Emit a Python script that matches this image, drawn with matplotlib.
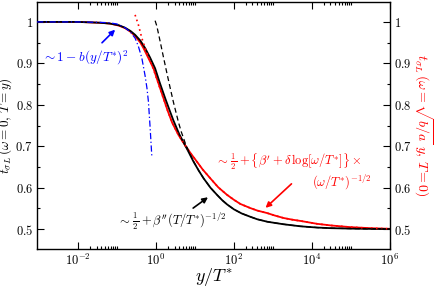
import matplotlib
matplotlib.use('Agg')
import matplotlib.pyplot as plt
import numpy as np
from matplotlib.ticker import FixedLocator, FixedFormatter, NullFormatter

plt.rcParams['mathtext.fontset'] = 'cm'
plt.rcParams['font.family'] = 'serif'

# values: log10(y/T*) and t
black_logy = [-3.05, -2.0, -1.434, -1.177, -0.95, -0.792, -0.65, -0.535, -0.4, -0.278, -0.15,
              -0.021, 0.1, 0.237, 0.35, 0.45, 0.6, 0.751, 0.85, 0.964, 1.1, 1.221, 1.4, 1.566,
              1.7, 1.823, 2.0, 2.2, 2.422, 2.6, 2.86, 3.27, 3.71, 4.136, 4.5, 4.99, 5.5, 6.0]
black_t = [1.0, 1.0, 0.998, 0.996, 0.992, 0.986, 0.978, 0.969, 0.955, 0.937, 0.914,
           0.888, 0.853, 0.816, 0.787, 0.762, 0.729, 0.702, 0.684, 0.663, 0.641, 0.623, 0.600, 0.583,
           0.570, 0.560, 0.548, 0.538, 0.530, 0.524, 0.518, 0.512, 0.507, 0.504, 0.5025, 0.5015, 0.5008, 0.5004]

red_logy = [-3.05, -2.0, -1.434, -1.177, -0.95, -0.792, -0.65, -0.535, -0.4, -0.321, -0.2,
            -0.064, 0.06, 0.193, 0.3, 0.416, 0.58, 0.751, 0.9, 1.051, 1.2, 1.393, 1.6, 1.823,
            2.0, 2.165, 2.422, 2.6, 2.851, 3.05, 3.278, 3.5, 3.707, 4.136, 4.5, 4.992, 5.5, 6.0]
red_t = [1.0, 1.0, 0.998, 0.996, 0.991, 0.985, 0.976, 0.966, 0.950, 0.937, 0.914,
         0.888, 0.853, 0.816, 0.786, 0.757, 0.727, 0.702, 0.682, 0.663, 0.644, 0.623, 0.601, 0.583,
         0.571, 0.561, 0.551, 0.545, 0.539, 0.533, 0.527, 0.523, 0.520, 0.513, 0.509, 0.505, 0.5025, 0.501]

red_asym_logy = [-0.535, -0.45, -0.362, -0.278, -0.17, -0.064, 0.06, 0.193, 0.3, 0.416, 0.58, 0.751,
                 0.9, 1.051, 1.2, 1.393, 1.6, 1.823, 2.0, 2.165, 2.422, 2.6, 2.851, 3.05, 3.278,
                 3.5, 3.707, 4.136, 4.5, 4.992, 5.5, 6.0]
red_asym_t = [1.017, 0.993, 0.961, 0.937, 0.911, 0.886, 0.852, 0.815, 0.786, 0.757, 0.727, 0.702,
              0.682, 0.663, 0.644, 0.623, 0.601, 0.583, 0.571, 0.561, 0.551, 0.545, 0.539, 0.533, 0.527,
              0.523, 0.520, 0.513, 0.509, 0.505, 0.5025, 0.501]

black_asym_logy = [-0.021, 0.023, 0.108, 0.193, 0.28, 0.365, 0.45, 0.578, 0.65, 0.751, 0.85,
                   0.964, 1.1, 1.221, 1.4, 1.566, 1.7, 1.823, 2.0, 2.2, 2.422, 2.6, 2.86, 3.27,
                   3.71, 4.136, 4.5, 4.99, 5.5, 6.0]
black_asym_t = [1.003, 0.990, 0.953, 0.915, 0.877, 0.841, 0.806, 0.758, 0.735, 0.708, 0.686,
                0.664, 0.641, 0.623, 0.600, 0.583, 0.570, 0.560, 0.548, 0.538, 0.530, 0.524, 0.518, 0.512,
                0.507, 0.504, 0.5025, 0.5015, 0.5008, 0.5004]

blue_logy = [-3.05, -2.0, -1.434, -1.2, -1.0, -0.792, -0.65, -0.535, -0.45, -0.362, -0.278,
             -0.23, -0.193, -0.149, -0.105]
blue_t = [1.0, 1.0, 0.999, 0.998, 0.995, 0.986, 0.975, 0.961, 0.941, 0.913, 0.870,
          0.840, 0.808, 0.745, 0.675]

y_ticks = [0.5, 0.6, 0.7, 0.8, 0.9, 1.0]
y_tick_labels = ['0.5', '0.6', '0.7', '0.8', '0.9', '1']
x_major = [-2, 0, 2, 4, 6]


def lin(logs):
    return 10.0 ** np.array(logs)


fig = plt.figure(figsize=(4.36, 2.89), dpi=100)
ax = fig.add_axes([0.085, 0.138, 0.809, 0.855])

ax.plot(lin(black_logy), black_t, color='black', lw=1.3, zorder=4)
ax.plot(lin(red_logy), red_t, color='red', lw=1.3, zorder=3)
ax.plot(lin(red_asym_logy), red_asym_t, color='red', lw=1.2, ls=(0, (1, 2)), zorder=5)
ax.plot(lin(black_asym_logy), black_asym_t, color='black', lw=0.9, ls=(0, (4, 2.5)), zorder=5)
ax.plot(lin(blue_logy), blue_t, color='blue', lw=0.9, ls=(0, (5, 2, 1, 2)), zorder=6)

ax.set_xscale('log')
ax.set_xlim(10 ** -3.05, 1e6)
ax.set_ylim(0.452, 1.048)

ax.xaxis.set_major_locator(FixedLocator(lin(x_major)))
ax.xaxis.set_major_formatter(FixedFormatter([r'$10^{%d}$' % e for e in x_major]))
minors = [k * 10.0 ** e for e in (-2, 0, 2, 4) for k in range(2, 11)]
ax.xaxis.set_minor_locator(FixedLocator(minors))
ax.xaxis.set_minor_formatter(NullFormatter())

ax.yaxis.set_major_locator(FixedLocator(y_ticks))
ax.yaxis.set_major_formatter(FixedFormatter(['$%s$' % s for s in y_tick_labels]))
ax.yaxis.set_minor_locator(FixedLocator([0.55, 0.65, 0.75, 0.85, 0.95]))

ax.tick_params(which='both', direction='in', top=True, right=True, labelright=True,
               labelsize=9, width=0.8)
ax.tick_params(which='major', length=5, pad=3)
ax.tick_params(which='minor', length=2.5)
for s in ax.spines.values():
    s.set_linewidth(1.0)

ax.set_xlabel(r'$y/T^{*}$', fontsize=13, labelpad=-2)
ax.set_ylabel(r'$t_{\sigma L}\,(\omega=0,\,T=y)$', fontsize=9.5)
ax.yaxis.set_label_coords(-0.064, 0.5)
ax.text(1.094, 0.5, r'$t_{\sigma L}\,(\omega=\sqrt{b/a}\;y,\,T=0)$', transform=ax.transAxes,
        rotation=270, color='red', fontsize=10, ha='center', va='center')

# annotations
ax.text(10 ** -2.92, 0.913, r'$\sim 1-b(y/T^{*})^{2}$', color='blue', fontsize=9.5,
        ha='left', va='center')
ax.annotate('', xy=(10 ** -0.997, 0.986), xytext=(10 ** -1.434, 0.945),
            arrowprops=dict(arrowstyle='-|>', color='blue', lw=1.2, mutation_scale=8))

ax.text(10 ** 1.52, 0.662,
        r'$\sim\,\frac{1}{2}+\left\{\beta^{\prime}+\delta\,\log[\omega/T^{*}]\right\}\times$',
        color='red', fontsize=9, ha='left', va='center')
ax.text(10 ** 4.0, 0.612, r'$(\omega/T^{*})^{-1/2}$', color='red', fontsize=9,
        ha='left', va='center')
ax.annotate('', xy=(10 ** 2.76, 0.547), xytext=(10 ** 3.53, 0.614),
            arrowprops=dict(arrowstyle='-|>', color='red', lw=1.2, mutation_scale=8))

ax.text(10 ** -1.0, 0.518, r'$\sim\,\frac{1}{2}+\beta^{\prime\prime}(T/T^{*})^{-1/2}$',
        color='black', fontsize=9, ha='left', va='center')
ax.annotate('', xy=(10 ** 1.393, 0.581), xytext=(10 ** 0.897, 0.547),
            arrowprops=dict(arrowstyle='-|>', color='black', lw=1.2, mutation_scale=8))

fig.savefig('out.png', dpi=100)
